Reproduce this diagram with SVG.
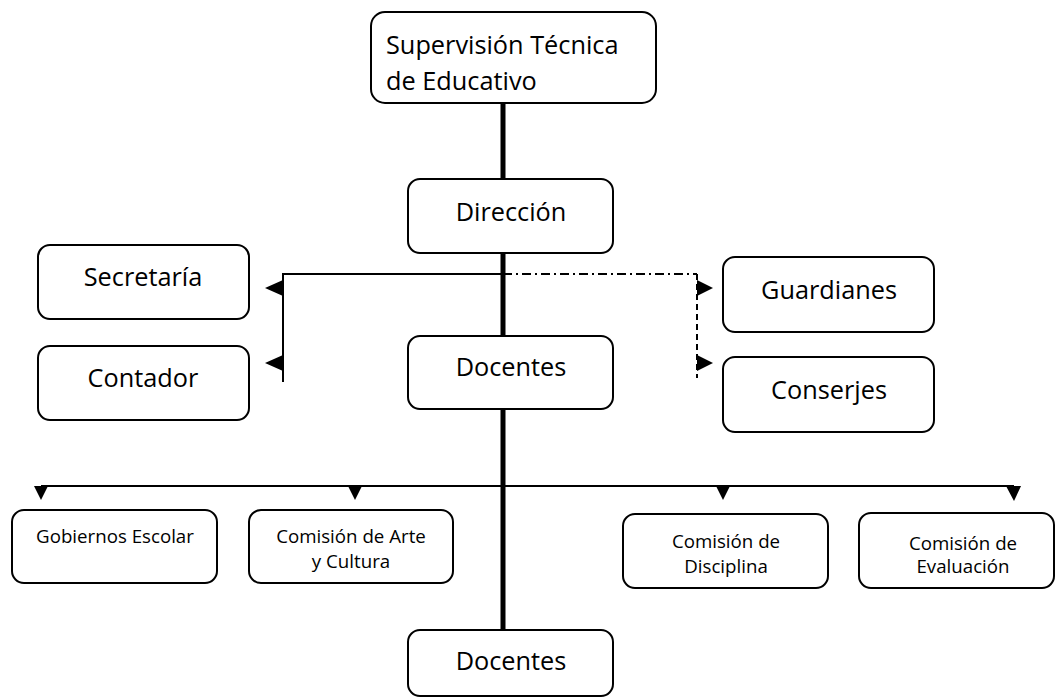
<svg xmlns="http://www.w3.org/2000/svg" width="1056" height="698" viewBox="0 0 1056 698">
<style>
.box{fill:#fff;stroke:#000;stroke-width:2}
.t{font-family:"Open Sans","Liberation Sans",sans-serif;font-size:25.3px;fill:#000;text-anchor:middle}
.l{text-anchor:start}
.s{font-family:"Open Sans","Liberation Sans",sans-serif;font-size:18.7px;fill:#000;text-anchor:middle}
.thin{stroke:#000;stroke-width:2;fill:none}
.ah{fill:#000;stroke:none}
</style>
<rect width="1056" height="698" fill="#fff"/>
<g id="connectors">
<line x1="503" y1="103" x2="503" y2="630" stroke="#000" stroke-width="5"/>
<polyline class="thin" points="503,274 283,274 283,382"/>
<line class="thin" x1="503" y1="274" x2="697" y2="274" stroke-dasharray="9,4,2,4"/>
<line class="thin" x1="697" y1="274" x2="697" y2="378" stroke-dasharray="6,4"/>
<line class="thin" x1="41" y1="486" x2="1014" y2="486"/>
<polygon class="ah" points="265,288 283,280 283,296"/>
<polygon class="ah" points="265,363 283,355 283,371"/>
<polygon class="ah" points="713,288 697,280 697,296"/>
<polygon class="ah" points="713,363 697,355 697,371"/>
<polygon class="ah" points="34,486 48,486 41,500"/>
<polygon class="ah" points="348,486 362,486 355,500"/>
<polygon class="ah" points="716,486 730,486 723,500"/>
<polygon class="ah" points="1006,486 1021,486 1014,501"/>
</g>
<g id="supervision">
<rect class="box" x="371" y="12" width="285" height="91" rx="14"/>
<text class="t l" x="386" y="54">Supervisión Técnica</text>
<text class="t l" x="386" y="90">de Educativo</text>
</g>
<g id="direccion">
<rect class="box" x="408" y="179" width="205" height="74" rx="12"/>
<text class="t" x="511" y="221">Dirección</text>
</g>
<g id="secretaria">
<rect class="box" x="38" y="245" width="211" height="74" rx="12"/>
<text class="t" x="143" y="286">Secretaría</text>
</g>
<g id="contador">
<rect class="box" x="38" y="346" width="211" height="74" rx="12"/>
<text class="t" x="143" y="387">Contador</text>
</g>
<g id="docentes1">
<rect class="box" x="408" y="336" width="205" height="73" rx="12"/>
<text class="t" x="511" y="376">Docentes</text>
</g>
<g id="guardianes">
<rect class="box" x="723" y="257" width="211" height="75" rx="12"/>
<text class="t" x="829" y="299">Guardianes</text>
</g>
<g id="conserjes">
<rect class="box" x="723" y="357" width="211" height="75" rx="12"/>
<text class="t" x="829" y="399">Conserjes</text>
</g>
<g id="gobiernos">
<rect class="box" x="12" y="510" width="205" height="73" rx="12"/>
<text class="s" x="115" y="543">Gobiernos Escolar</text>
</g>
<g id="arte">
<rect class="box" x="249" y="510" width="204" height="73" rx="12"/>
<text class="s" x="351" y="543">Comisión de Arte</text>
<text class="s" x="351" y="568">y Cultura</text>
</g>
<g id="disciplina">
<rect class="box" x="623" y="514" width="205" height="74" rx="12"/>
<text class="s" x="726" y="548">Comisión de</text>
<text class="s" x="726" y="573">Disciplina</text>
</g>
<g id="evaluacion">
<rect class="box" x="859" y="513" width="195" height="75" rx="12"/>
<text class="s" x="963" y="550">Comisión de</text>
<text class="s" x="963" y="573">Evaluación</text>
</g>
<g id="docentes2">
<rect class="box" x="408" y="630" width="205" height="66" rx="12"/>
<text class="t" x="511" y="670">Docentes</text>
</g>
</svg>
